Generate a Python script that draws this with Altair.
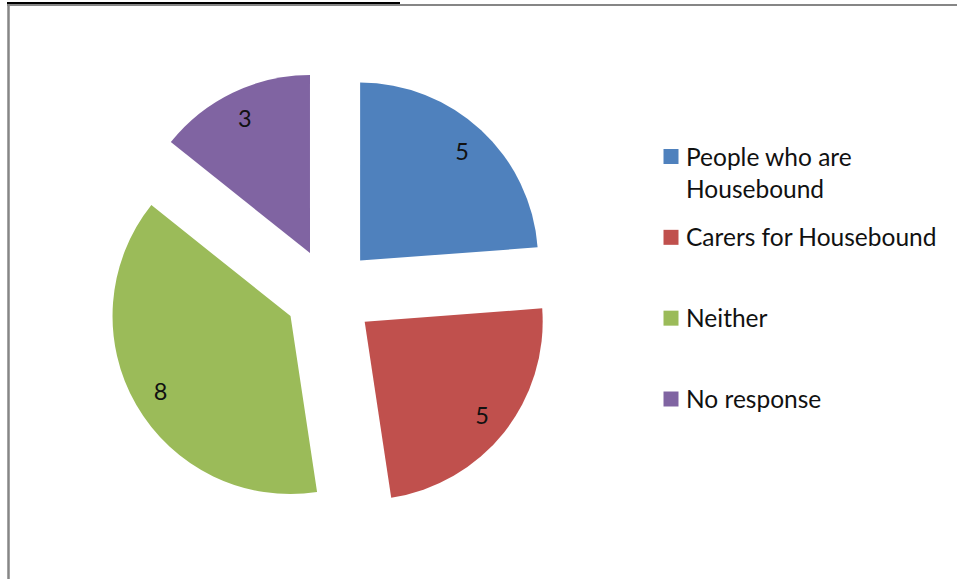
import altair as alt
import pandas as pd

# ---- data ----
categories = ["People who are Housebound", "Carers for Housebound", "Neither", "No response"]
legend_labels = ["People who are\nHousebound", "Carers for Housebound", "Neither", "No response"]
values = [5, 5, 8, 3]
colors = ["#4F81BD", "#C0504D", "#9BBB59", "#8064A2"]

# ---- layout / style ----
W, H = 957, 579
CX, CY = 329.5, 293.6
R = 178
EXPLODE = 45
LABEL_R = 195
FONT = "Lato"
FS = 23.5
LEG_FS = 24.5

df = pd.DataFrame({
    "category": categories,
    "label": legend_labels,
    "value": values,
    "order": list(range(len(values))),
})

color = alt.Color("category:N", scale=alt.Scale(domain=categories, range=colors), legend=None)

base = (
    alt.Chart(df)
    .transform_joinaggregate(total="sum(value)")
    .transform_window(cum="sum(value)", sort=[alt.SortField("order")], frame=[None, 0])
    .transform_calculate(
        start="(datum.cum - datum.value) / datum.total * 2 * PI",
        end="datum.cum / datum.total * 2 * PI",
    )
    .transform_calculate(mid="(datum.start + datum.end) / 2")
    .transform_calculate(
        cx=f"{CX} + {EXPLODE} * sin(datum.mid)",
        cy=f"{CY} - {EXPLODE} * cos(datum.mid)",
        lx=f"{CX} + {LABEL_R} * sin(datum.mid)",
        ly=f"{CY} - {LABEL_R} * cos(datum.mid)",
    )
)

arcs = base.mark_arc(outerRadius=R).encode(
    theta=alt.Theta("start:Q", scale=None, stack=None),
    theta2="end:Q",
    x=alt.X("cx:Q", scale=None),
    y=alt.Y("cy:Q", scale=None),
    color=color,
)

pie_labels = base.mark_text(font=FONT, fontSize=FS, color="#111111", align="center", baseline="middle", dy=2).encode(
    x=alt.X("lx:Q", scale=None),
    y=alt.Y("ly:Q", scale=None),
    text="value:Q",
)

leg_y = alt.Y("order:Q", scale=alt.Scale(domain=[0, 3], range=[156.5, 399]), axis=None)

leg_sq = alt.Chart(df).mark_square(size=225, opacity=1).encode(
    x=alt.value(671),
    y=leg_y,
    color=color,
)

leg_txt = alt.Chart(df).mark_text(
    font=FONT, fontSize=LEG_FS, color="#111111", align="left", baseline="top",
    dy=-10, lineBreak="\n", lineHeight=32,
).encode(
    x=alt.value(686),
    y=leg_y,
    text="label:N",
)

one = alt.Data(values=[{}])
frame_black = alt.Chart(one).mark_rule(color="#000000", strokeWidth=2).encode(
    x=alt.value(7), x2=alt.value(400), y=alt.value(3)
)
frame_top = alt.Chart(one).mark_rule(color="#868686", strokeWidth=2).encode(
    x=alt.value(7), x2=alt.value(W), y=alt.value(5)
)
frame_left = alt.Chart(one).mark_rule(color="#868686", strokeWidth=2.5).encode(
    x=alt.value(8.5), y=alt.value(4), y2=alt.value(H)
)

chart = (
    alt.layer(frame_black, frame_top, frame_left, arcs, pie_labels, leg_sq, leg_txt)
    .resolve_scale(x="independent", y="independent")
    .properties(width=W, height=H, padding=0, autosize="none", background="white")
    .configure_view(stroke=None)
)

chart.save("out.html", embed_options={"renderer": "svg", "actions": False})
